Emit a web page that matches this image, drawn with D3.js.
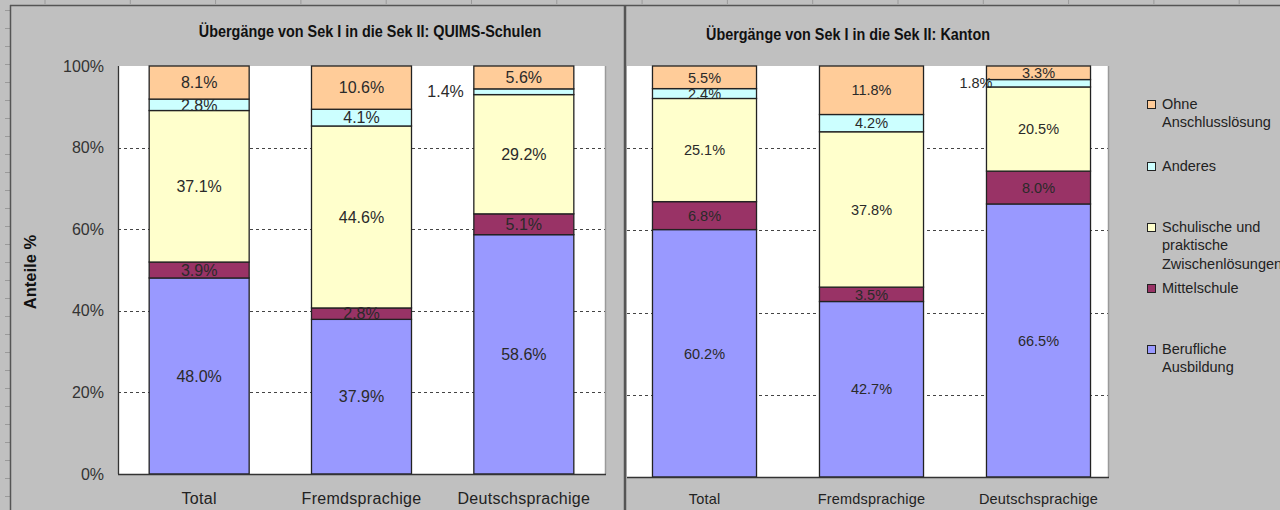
<!DOCTYPE html>
<html><head><meta charset="utf-8">
<script src="https://cdn.jsdelivr.net/npm/d3@7"></script>
<style>body{margin:0;background:#c0c0c0;overflow:hidden} svg{display:block}</style>
</head><body><svg id="c" width="1280" height="510"></svg>
<script>
// ---------- data ----------
const categories = ["Total", "Fremdsprachige", "Deutschsprachige"];
const seriesKeys = ["Berufliche Ausbildung", "Mittelschule", "Schulische und praktische Zwischenlösungen", "Anderes", "Ohne Anschlusslösung"];
const seriesColors = ["#9999FF", "#993366", "#FFFFCC", "#CCFFFF", "#FFCC99"];

const quimsBerufliche   = [48.0, 37.9, 58.6];
const quimsMittelschule = [3.9, 2.8, 5.1];
const quimsSchulische   = [37.1, 44.6, 29.2];
const quimsAnderes      = [2.8, 4.1, 1.4];
const quimsOhne         = [8.1, 10.6, 5.6];

const kantonBerufliche   = [60.2, 42.7, 66.5];
const kantonMittelschule = [6.8, 3.5, 8.0];
const kantonSchulische   = [25.1, 37.8, 20.5];
const kantonAnderes      = [2.4, 4.2, 1.8];
const kantonOhne         = [5.5, 11.8, 3.3];

const yTickValues = [0, 0.2, 0.4, 0.6, 0.8, 1];
const yTickLabels = ["0%", "20%", "40%", "60%", "80%", "100%"];
const titles = ["Übergänge von Sek I in die Sek II: QUIMS-Schulen", "Übergänge von Sek I in die Sek II: Kanton"];
const yAxisTitle = "Anteile %";
const legendLines = [["Ohne", "Anschlusslösung"], ["Anderes"], ["Schulische und", "praktische", "Zwischenlösungen"], ["Mittelschule"], ["Berufliche", "Ausbildung"]];
const legendColors = ["#FFCC99", "#CCFFFF", "#FFFFCC", "#993366", "#9999FF"];

// ---------- helpers ----------
function rows(arrs) {
  return categories.map((c, i) => {
    const o = {cat: c};
    seriesKeys.forEach((k, j) => o[k] = arrs[j][i]);
    return o;
  });
}
const quimsRows = rows([quimsBerufliche, quimsMittelschule, quimsSchulische, quimsAnderes, quimsOhne]);
const kantonRows = rows([kantonBerufliche, kantonMittelschule, kantonSchulische, kantonAnderes, kantonOhne]);

const svg = d3.select("#c");
const SANS = "'Liberation Sans', Arial, sans-serif";
const NARROW = "'Liberation Sans Narrow', 'Arial Narrow', 'Liberation Sans', sans-serif";

// background frame (sheet ruler look)
svg.append("rect").attr("x", 0).attr("y", 0).attr("width", 1280).attr("height", 510).attr("fill", "#c0c0c0");
const topTicks = d3.range(45, 1280, 85.3);
svg.selectAll(".tt").data(topTicks).join("line")
  .attr("x1", d => d).attr("x2", d => d).attr("y1", 0).attr("y2", 4)
  .attr("stroke", "#9a9a9a").attr("stroke-width", 1);
const leftTicks = d3.range(10, 510, 18);
svg.selectAll(".lt").data(leftTicks).join("line")
  .attr("x1", 5).attr("x2", 10).attr("y1", d => d + 0.5).attr("y2", d => d + 0.5)
  .attr("stroke", "#9a9a9a").attr("stroke-width", 1);
svg.append("line").attr("x1", 10).attr("x2", 1280).attr("y1", 5.5).attr("y2", 5.5).attr("stroke", "#555").attr("stroke-width", 1.5);
svg.append("line").attr("x1", 10.5).attr("x2", 10.5).attr("y1", 5).attr("y2", 510).attr("stroke", "#555").attr("stroke-width", 1.5);

function drawPanel(cfg) {
  const g = svg.append("g");
  const y = d3.scaleLinear().domain([0, 1]).range([cfg.bottom, cfg.top]);
  const x = d3.scaleBand().domain(categories).range(cfg.bandRange)
    .paddingInner(cfg.pad).paddingOuter(cfg.pad / 2);
  // plot area
  g.append("rect").attr("x", cfg.plotX0).attr("y", cfg.top)
    .attr("width", cfg.plotX1 - cfg.plotX0).attr("height", cfg.bottom - cfg.top).attr("fill", "#fff");
  // gridlines
  g.selectAll(".grid").data(yTickValues.filter(v => v > 0 && v < 1)).join("line")
    .attr("x1", cfg.plotX0).attr("x2", cfg.plotX1)
    .attr("y1", d => Math.round(y(d)) + 0.5).attr("y2", d => Math.round(y(d)) + 0.5)
    .attr("stroke", "#444").attr("stroke-width", 1).attr("stroke-dasharray", "3,3");
  // right shadow border
  g.append("line").attr("x1", cfg.plotX1 + 0.5).attr("x2", cfg.plotX1 + 0.5).attr("y1", cfg.top).attr("y2", cfg.bottom)
    .attr("stroke", "#9a9a9a").attr("stroke-width", 1.5);
  // stacks
  const stack = d3.stack().keys(seriesKeys).offset(d3.stackOffsetExpand);
  const series = stack(cfg.data);
  const layers = g.selectAll(".layer").data(series).join("g")
    .attr("fill", (d, i) => seriesColors[i]);
  layers.selectAll("rect").data(d => d).join("rect")
    .attr("x", d => x(d.data.cat)).attr("width", x.bandwidth())
    .attr("y", d => y(d[1])).attr("height", d => y(d[0]) - y(d[1]))
    .attr("stroke", "#222").attr("stroke-width", 1.3);
  // labels
  series.forEach((s) => {
    s.forEach(d => {
      const v = d.data[s.key];
      const cy = (y(d[0]) + y(d[1])) / 2;
      const small = v < 2;
      g.append("text")
        .attr("x", small ? x(d.data.cat) + cfg.smallDx : x(d.data.cat) + x.bandwidth() / 2)
        .attr("y", cy).attr("dy", "0.36em")
        .attr("text-anchor", small ? "end" : "middle")
        .attr("font-family", SANS).attr("font-size", cfg.labelSize).attr("fill", "#2a2a2a")
        .text(d3.format(".1f")(v) + "%");
    });
  });
  // axes lines
  g.append("line").attr("x1", cfg.plotX0).attr("x2", cfg.plotX1 + 1).attr("y1", cfg.bottom + 0.5).attr("y2", cfg.bottom + 0.5)
    .attr("stroke", "#333").attr("stroke-width", 1.3);
  if (cfg.showY) {
    g.append("line").attr("x1", cfg.plotX0 + 0.5).attr("x2", cfg.plotX0 + 0.5).attr("y1", cfg.top).attr("y2", cfg.bottom)
      .attr("stroke", "#333").attr("stroke-width", 1.3);
    const ax = d3.axisLeft(y).tickValues(yTickValues).tickFormat((d, i) => yTickLabels[i]).tickSize(0).tickPadding(14);
    const ag = g.append("g").attr("transform", `translate(${cfg.plotX0},0)`).call(ax);
    ag.select(".domain").remove();
    ag.selectAll("text").attr("font-family", SANS).attr("font-size", 16).attr("fill", "#333");
    g.append("text").attr("transform", `translate(36,${(cfg.top + cfg.bottom) / 2 + 2}) rotate(-90)`)
      .attr("text-anchor", "middle").attr("font-family", SANS).attr("font-weight", "bold")
      .attr("font-size", 16.5).attr("fill", "#111").text(yAxisTitle);
  }
  // x labels
  const xa = d3.axisBottom(x).tickSize(0).tickPadding(0);
  const xg = g.append("g").attr("transform", `translate(0,${cfg.xLabelY})`).call(xa);
  xg.select(".domain").remove();
  xg.selectAll("text").attr("dy", 0).attr("y", 0).attr("font-family", SANS).attr("font-size", cfg.xLabelSize)
    .attr("letter-spacing", cfg.xLetter).attr("fill", "#222");
  // title (narrow bold look)
  g.append("text").attr("transform", `translate(${cfg.titleX},${cfg.titleY}) scale(0.9,1)`).attr("text-anchor", "middle")
    .attr("font-family", NARROW).attr("font-weight", "bold").attr("font-size", cfg.titleSize).attr("fill", "#111")
    .text(cfg.title);
}

drawPanel({
  data: quimsRows, title: titles[0], titleX: 370, titleY: 37, titleSize: 16,
  top: 66, bottom: 474, plotX0: 118, plotX1: 605, bandRange: [118, 605], pad: 0.384,
  labelSize: 16, smallDx: -10, showY: true, xLabelY: 504, xLabelSize: 16, xLetter: 0.3
});

// right panel background and divider
svg.append("rect").attr("x", 626).attr("y", 7).attr("width", 654).attr("height", 503).attr("fill", "#c0c0c0");
drawPanel({
  data: kantonRows, title: titles[1], titleX: 848, titleY: 40, titleSize: 16,
  top: 66, bottom: 477, plotX0: 627, plotX1: 1108, bandRange: [621, 1122], pad: 0.377,
  labelSize: 14.5, smallDx: 6, showY: false, xLabelY: 504, xLabelSize: 14.5, xLetter: 0.2
});
svg.append("line").attr("x1", 625).attr("x2", 625).attr("y1", 5).attr("y2", 510).attr("stroke", "#555").attr("stroke-width", 2.5);

// legend
const leg = svg.append("g");
const legTops = [100, 162, 223, 284, 345];
legendLines.forEach((lines, i) => {
  leg.append("rect").attr("x", 1147.5).attr("y", legTops[i] + 0.5).attr("width", 8).attr("height", 8)
    .attr("fill", legendColors[i]).attr("stroke", "#222").attr("stroke-width", 1);
  lines.forEach((t, j) => {
    leg.append("text").attr("x", 1162).attr("y", legTops[i] + 8.5 + j * 18.5)
      .attr("font-family", SANS).attr("font-size", 14.5).attr("fill", "#222").text(t);
  });
});
</script></body></html>
